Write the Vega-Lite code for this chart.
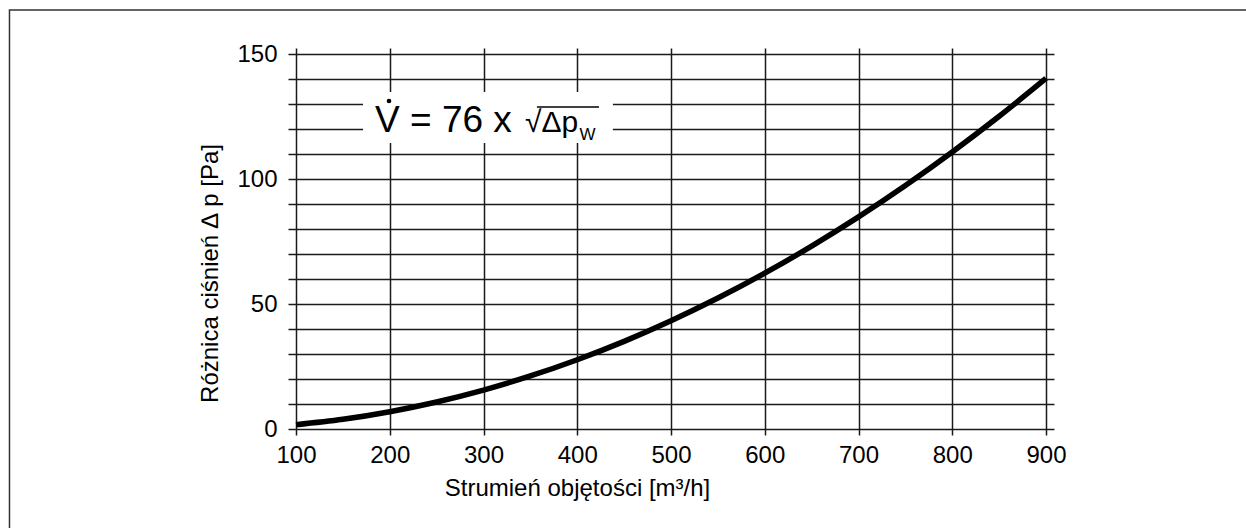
{
  "$schema": "https://vega.github.io/schema/vega-lite/v6.json",
  "width": 766,
  "height": 387,
  "autosize": "none",
  "padding": {"left": 288, "top": 48, "right": 192, "bottom": 93},
  "background": "white",
  "config": {
    "view": {"stroke": null},
    "font": "Liberation Sans",
    "axis": {
      "domain": false,
      "ticks": false,
      "grid": true,
      "gridColor": "#1a1a1a",
      "gridWidth": 1.5,
      "gridOpacity": 1,
      "labelFont": "Liberation Sans",
      "labelFontSize": 24,
      "labelColor": "#000",
      "labelFlush": false,
      "titleFont": "Liberation Sans",
      "titleFontSize": 24,
      "titleFontWeight": "normal",
      "titleColor": "#000"
    },
    "axisX": {"tickCount": 8, "labelPadding": 8, "titlePadding": 9, "titleX": 289},
    "axisY": {"tickCount": 16, "labelExpr": "datum.value % 50 === 0 ? datum.label : ''", "labelOverlap": false, "labelPadding": 11, "titlePadding": 14, "titleY": 225}
  },
  "layer": [
    {
      "data": {
        "values": [
          {"v": 100, "dp": 1.731},
          {"v": 150, "dp": 3.895},
          {"v": 200, "dp": 6.925},
          {"v": 250, "dp": 10.821},
          {"v": 300, "dp": 15.582},
          {"v": 350, "dp": 21.209},
          {"v": 400, "dp": 27.701},
          {"v": 450, "dp": 35.059},
          {"v": 500, "dp": 43.283},
          {"v": 550, "dp": 52.372},
          {"v": 600, "dp": 62.327},
          {"v": 650, "dp": 73.148},
          {"v": 700, "dp": 84.834},
          {"v": 750, "dp": 97.386},
          {"v": 800, "dp": 110.803},
          {"v": 850, "dp": 125.087},
          {"v": 900, "dp": 140.236}
        ]
      },
      "mark": {"type": "line", "color": "#000", "strokeWidth": 5.5, "interpolate": "monotone", "strokeCap": "butt"},
      "encoding": {
        "x": {
          "field": "v", "type": "quantitative",
          "scale": {"domain": [91.47, 908.5], "nice": false, "zero": false},
          "axis": {"title": "Strumień objętości [m³/h]"}
        },
        "y": {
          "field": "dp", "type": "quantitative",
          "scale": {"domain": [-2.4, 152.4], "nice": false, "zero": false},
          "axis": {"title": "Różnica ciśnień ∆ p [Pa]"}
        }
      }
    },
    {
      "data": {"values": [{}]},
      "mark": {"type": "rect", "fill": "white", "stroke": null},
      "encoding": {
        "x": {"datum": 171.5, "type": "quantitative"},
        "x2": {"datum": 438},
        "y": {"datum": 114.4, "type": "quantitative"},
        "y2": {"datum": 134.8}
      }
    },
    {
      "data": {"values": [{}]},
      "mark": {"type": "text", "text": "V = 76 x", "fontSize": 37, "fontWeight": "normal", "align": "left", "baseline": "alphabetic", "fill": "#000", "font": "Liberation Sans"},
      "encoding": {
        "x": {"datum": 184.3, "type": "quantitative"},
        "y": {"datum": 118.8, "type": "quantitative"}
      }
    },
    {
      "data": {"values": [{}]},
      "mark": {"type": "point", "filled": true, "shape": "circle", "size": 22, "color": "#000", "opacity": 1},
      "encoding": {
        "x": {"datum": 199.2, "type": "quantitative"},
        "y": {"datum": 131.2, "type": "quantitative"}
      }
    },
    {
      "data": {"values": [{}]},
      "mark": {"type": "text", "text": "√Δp", "fontSize": 30, "fontWeight": "normal", "align": "left", "baseline": "alphabetic", "fill": "#000", "font": "Liberation Sans"},
      "encoding": {
        "x": {"datum": 344.3, "type": "quantitative"},
        "y": {"datum": 118.8, "type": "quantitative"}
      }
    },
    {
      "data": {"values": [{}]},
      "mark": {"type": "text", "text": "W", "fontSize": 17, "fontWeight": "normal", "align": "left", "baseline": "alphabetic", "fill": "#000", "font": "Liberation Sans"},
      "encoding": {
        "x": {"datum": 402.5, "type": "quantitative"},
        "y": {"datum": 115.6, "type": "quantitative"}
      }
    },
    {
      "data": {"values": [{}]},
      "mark": {"type": "rule", "color": "#000", "strokeWidth": 1.5},
      "encoding": {
        "x": {"datum": 357, "type": "quantitative"},
        "x2": {"datum": 423.2},
        "y": {"datum": 128.8, "type": "quantitative"}
      }
    },
    {
      "data": {"values": [{}]},
      "mark": {"type": "rect", "fill": null, "filled": false, "stroke": "#333", "strokeWidth": 1.5},
      "encoding": {
        "x": {"datum": -205.6, "type": "quantitative"},
        "x2": {"datum": 2500},
        "y": {"datum": -500, "type": "quantitative"},
        "y2": {"datum": 167.6}
      }
    }
  ]
}
